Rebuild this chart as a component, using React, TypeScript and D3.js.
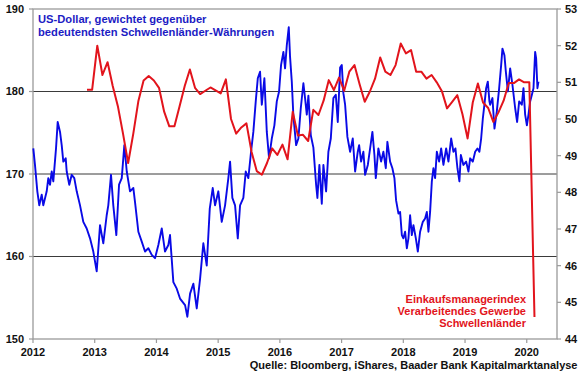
import React from "react";
import * as d3 from "d3";

// US-Dollar index vs EM currencies: [decimal year, value]
const usdSeries: [number, number][] = [
  [2012.005,173.1],[2012.032,171.1],[2012.070,167.9],[2012.102,166.2],[2012.141,167.5],[2012.167,166.2],[2012.222,167.9],[2012.248,169.5],[2012.276,168.7],[2012.303,170.3],[2012.329,169.1],[2012.373,173.1],[2012.400,176.3],[2012.438,175.1],[2012.465,173.5],[2012.491,171.5],[2012.530,171.9],[2012.546,170.3],[2012.588,168.7],[2012.627,169.9],[2012.669,169.5],[2012.708,167.9],[2012.762,166.2],[2012.815,164.2],[2012.870,163.4],[2012.924,162.2],[2012.977,160.6],
  [2013.032,158.2],[2013.086,163.8],[2013.139,161.6],[2013.194,165.0],[2013.220,166.2],[2013.264,169.9],[2013.301,166.2],[2013.350,162.6],[2013.394,168.7],[2013.438,169.5],[2013.480,173.5],[2013.519,170.3],[2013.572,167.9],[2013.626,168.3],[2013.653,166.6],[2013.707,163.0],[2013.762,161.8],[2013.815,160.6],[2013.869,161.0],[2013.924,160.2],[2013.977,159.8],
  [2014.031,161.4],[2014.086,163.4],[2014.139,160.6],[2014.193,161.4],[2014.220,162.6],[2014.274,156.9],[2014.329,156.1],[2014.382,154.9],[2014.464,154.1],[2014.501,152.7],[2014.545,155.5],[2014.598,156.7],[2014.653,153.7],[2014.707,157.3],[2014.760,161.6],[2014.815,158.9],[2014.864,165.8],[2014.912,168.3],[2014.950,166.2],
  [2015.003,167.9],[2015.058,164.2],[2015.112,166.2],[2015.165,169.5],[2015.193,171.5],[2015.230,167.1],[2015.274,166.2],[2015.318,162.2],[2015.355,166.2],[2015.408,167.1],[2015.447,170.3],[2015.489,169.5],[2015.533,172.7],[2015.570,175.1],[2015.609,178.8],[2015.642,181.6],[2015.679,182.4],[2015.707,178.4],[2015.749,181.6],[2015.788,175.1],[2015.825,171.9],[2015.869,174.3],[2015.911,175.9],[2015.950,178.8],[2015.987,180.0],
  [2016.019,183.2],[2016.057,184.8],[2016.084,182.8],[2016.112,185.6],[2016.144,187.8],[2016.165,184.2],[2016.193,181.2],[2016.219,177.0],[2016.263,173.5],[2016.300,174.3],[2016.339,178.0],[2016.381,181.0],[2016.408,179.2],[2016.436,177.2],[2016.462,179.5],[2016.501,174.7],[2016.543,173.2],[2016.587,168.7],[2016.608,167.1],[2016.640,171.1],[2016.679,166.4],[2016.705,171.1],[2016.749,167.9],[2016.786,172.7],[2016.825,174.3],[2016.867,179.2],[2016.906,179.6],[2016.938,176.3],[2016.976,182.9],
  [2017.003,183.2],[2017.029,179.8],[2017.057,178.4],[2017.094,174.5],[2017.138,172.7],[2017.181,174.3],[2017.219,170.3],[2017.262,172.7],[2017.284,173.5],[2017.316,171.5],[2017.353,172.7],[2017.381,169.9],[2017.425,171.1],[2017.462,173.1],[2017.499,175.1],[2017.532,172.3],[2017.554,169.5],[2017.596,173.1],[2017.640,171.5],[2017.677,172.7],[2017.716,170.7],[2017.742,173.9],[2017.786,171.5],[2017.823,170.7],[2017.856,169.5],[2017.883,166.8],[2017.921,165.2],[2017.948,165.4],[2017.976,162.6],
  [2018.001,162.2],[2018.029,163.0],[2018.057,161.0],[2018.083,162.2],[2018.110,165.0],[2018.138,162.6],[2018.164,163.8],[2018.203,162.2],[2018.235,160.6],[2018.272,163.0],[2018.316,164.2],[2018.353,164.6],[2018.381,165.4],[2018.407,163.0],[2018.434,165.4],[2018.462,169.1],[2018.488,170.7],[2018.515,169.5],[2018.543,172.7],[2018.580,171.5],[2018.613,173.1],[2018.650,171.1],[2018.694,173.1],[2018.731,171.5],[2018.775,174.3],[2018.812,172.7],[2018.844,173.1],[2018.877,170.7],[2018.909,169.1],[2018.932,172.3],[2018.974,171.1],
  [2019.018,171.5],[2019.055,170.3],[2019.083,171.9],[2019.126,171.5],[2019.164,172.7],[2019.201,173.1],[2019.233,172.7],[2019.261,174.3],[2019.288,176.7],[2019.314,178.4],[2019.342,180.4],[2019.369,181.2],[2019.395,178.8],[2019.407,178.4],[2019.444,179.2],[2019.477,175.5],[2019.515,177.6],[2019.553,180.4],[2019.585,183.2],[2019.606,185.2],[2019.638,184.4],[2019.661,182.4],[2019.694,180.0],[2019.731,182.8],[2019.768,180.8],[2019.812,178.0],[2019.844,176.3],[2019.877,178.8],[2019.920,178.4],[2019.947,180.4],[2019.974,177.2],
  [2020.002,175.9],[2020.028,177.2],[2020.055,178.8],[2020.083,179.6],[2020.109,180.4],[2020.136,184.8],[2020.152,184.0],[2020.173,180.4],[2020.190,181.2],
];

// EM manufacturing PMI, monthly from Nov 2012
const pmiStartYear = 2012;
const pmiStartMonth = 10; // 0-based: November
const pmiValues = [
  50.8, 50.8,
  52.0, 51.2, 51.55, 50.9, 50.35, 49.6, 48.8, 49.6, 50.5, 51.05, 51.17, 51.05,
  50.85, 50.2, 49.8, 49.8, 50.35, 50.9, 51.35, 50.85, 50.68, 50.77, 50.86, 50.78,
  50.7, 51.08, 50.0, 49.6, 49.77, 49.88, 49.1, 48.58, 48.48, 48.8, 49.2, 49.02,
  49.3, 48.9, 50.2, 49.55, 49.57, 49.4, 50.25, 50.11, 50.5, 51.06, 50.79, 51.13,
  50.77, 51.29, 51.47, 50.95, 50.47, 50.75, 51.1, 51.68, 51.29, 51.2, 51.47, 52.06,
  51.79, 51.88, 51.29, 51.29, 51.1, 51.2, 51.0, 50.76, 50.29, 50.47, 50.65, 50.13,
  49.47, 50.45, 50.97, 50.45, 50.3, 49.92, 50.18, 50.5, 50.98, 50.98, 51.08, 51.0,
  51.0, 44.6,
];

const yearTicks = [2012, 2013, 2014, 2015, 2016, 2017, 2018, 2019, 2020];
const leftTicks = [150, 160, 170, 180, 190];
const rightTicks = [44, 45, 46, 47, 48, 49, 50, 51, 52, 53];
const gridValues = [160, 170, 180];

const usdTitle = ["US-Dollar, gewichtet gegenüber", "bedeutendsten Schwellenländer-Währungen"];
const pmiTitle = ["Einkaufsmanagerindex", "Verarbeitendes Gewerbe", "Schwellenländer"];
const sourceText = "Quelle: Bloomberg, iShares, Baader Bank Kapitalmarktanalyse";

const W = 580, H = 375;
const L = 33, R = 557, T = 9, B = 339;
const FONT = "'Liberation Sans', Arial, sans-serif";
const BLUE = "#0a0ae6";
const BLUE_TXT = "#1c1cc4";
const RED = "#e2141c";
const FRAME = "#9a9a9a";

export default function App() {
  const x = d3.scaleLinear().domain([2012, 2020.49]).range([L, R]);
  const yL = d3.scaleLinear().domain([150, 190]).range([B, T]);
  const yR = d3.scaleLinear().domain([44, 53]).range([B, T]);

  const usdLine = d3.line<[number, number]>()
    .x((d) => x(d[0]))
    .y((d) => yL(d[1]));

  const pmiData = pmiValues.map((v, i) => {
    const m = pmiStartMonth + i;
    return [pmiStartYear + (m + 0.5) / 12, v] as [number, number];
  });
  const pmiLine = d3.line<[number, number]>()
    .x((d) => x(d[0]))
    .y((d) => yR(d[1]));

  return (
    <svg width={W} height={H} style={{ position: "absolute", left: 0, top: 0, background: "#fff" }} fontFamily={FONT}>
      <rect x={0} y={0} width={W} height={H} fill="#fff" />
      {gridValues.map((v) => (
        <line key={v} x1={L} x2={R} y1={yL(v)} y2={yL(v)} stroke="#3a3a3a" strokeWidth={1} />
      ))}
      <rect x={L} y={T} width={R - L} height={B - T} fill="none" stroke={FRAME} strokeWidth={1.3} />
      {leftTicks.map((v) => (
        <g key={v}>
          <line x1={L - 4} x2={L} y1={yL(v)} y2={yL(v)} stroke={FRAME} strokeWidth={1.2} />
          <text x={L - 9} y={yL(v)} dy="0.36em" textAnchor="end" fontSize={11} fontWeight="bold" fill="#111">{v}</text>
        </g>
      ))}
      {rightTicks.map((v) => (
        <g key={v}>
          <line x1={R} x2={R + 4} y1={yR(v)} y2={yR(v)} stroke={FRAME} strokeWidth={1.2} />
          <text x={R + 8} y={yR(v)} dy="0.36em" textAnchor="start" fontSize={11} fontWeight="bold" fill="#111">{v}</text>
        </g>
      ))}
      {yearTicks.map((v) => (
        <g key={v}>
          <line x1={x(v)} x2={x(v)} y1={B} y2={B + 4} stroke={FRAME} strokeWidth={1.2} />
          <text x={x(v)} y={355.5} textAnchor="middle" fontSize={11} fontWeight="bold" fill="#111">{v}</text>
        </g>
      ))}
      <path d={usdLine(usdSeries) || ""} fill="none" stroke={BLUE} strokeWidth={1.9} strokeLinejoin="round" />
      <path d={pmiLine(pmiData) || ""} fill="none" stroke={RED} strokeWidth={2} strokeLinejoin="round" />
      {usdTitle.map((s, i) => (
        <text key={s} x={38} y={22.7 + i * 13} fontSize={11.2} fontWeight="bold" fill={BLUE_TXT}>{s}</text>
      ))}
      {pmiTitle.map((s, i) => (
        <text key={s} x={526} y={303.3 + i * 11.7} textAnchor="end" fontSize={11} fontWeight="bold" fill={RED}>{s}</text>
      ))}
      <text x={577.5} y={369.3} textAnchor="end" fontSize={11} fontWeight="bold" fill="#111">{sourceText}</text>
    </svg>
  );
}
